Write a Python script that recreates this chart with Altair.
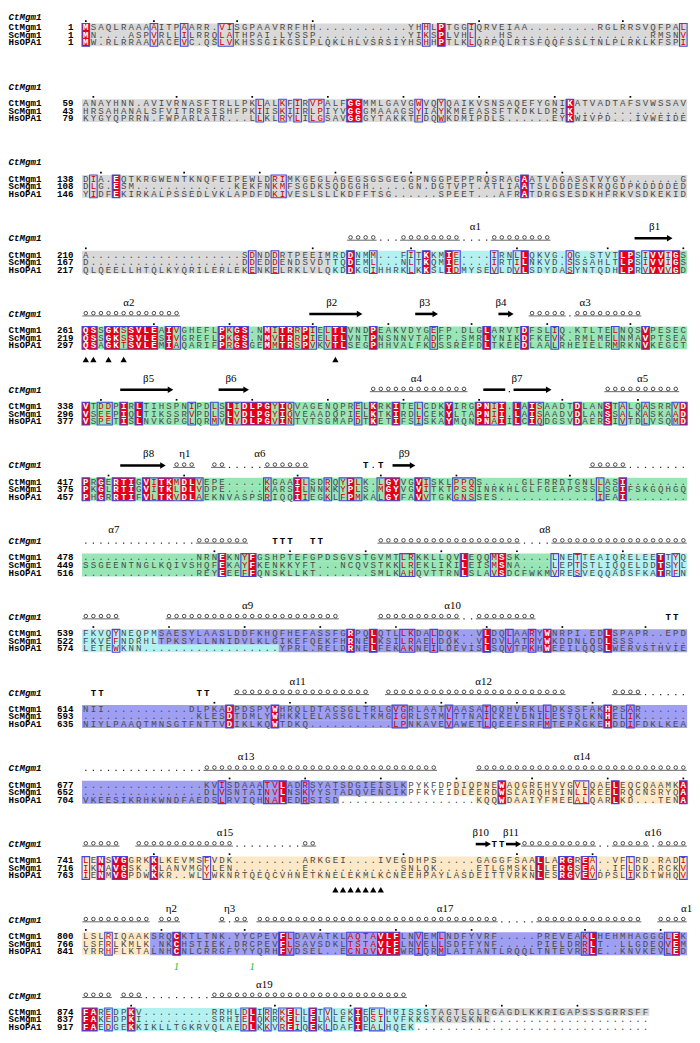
import altair as alt
import pandas as pd

# ---------------- data ----------------
names = ["CtMgm1", "ScMgm1", "HsOPA1"]
ct_start = [1, 59, 138, 210, 261, 338, 417, 478, 539, 614, 677, 741, 800, 874]
sc_start = [1, 43, 108, 167, 219, 296, 375, 449, 522, 593, 652, 716, 766, 837]
hs_start = [1, 79, 146, 217, 297, 377, 457, 516, 574, 635, 704, 763, 841, 917]

ct_seq = [
    "MSAQLRAAAAITPAARR.VISGPAAVRRFHH" + "." * 12 + "YHHLPTGGIQRVEIAA" + "." * 9 + "RGLRRSVQFPAL",
    "ANAYHNN.AVIVRNASFTRLLPKLALKFIRVPALFGGMMLGAVGWVQYQAIKVSNSAQEFYGNIKATVADTAFSVWSSAV",
    "DIA.EQTKRGWENTKNQFEIPEWLDRIMKGEGLAGEGSGSGEGGPNGGPEPPRQSRAGAATVAGASATVYGY" + "." * 7 + "G",
    "A" + "." * 20 + "SDNDDRTPEEIMRDDNMM...FITKKMIE....IRNLLQKVG.QG.STVTLPSIVVIGS",
    "QSSGKSSVLEAIVGHEFLPKGS.NMITRRPIELTLVNDPEAKVDYGEFP.DLGLARVTDFSLIQ.KTLTELNQSVPESEC",
    "VTDDPIRLTIHSPNIPDLSLIDLPGYIQVAGENQPRELKRKITELCDKYIRGPNII.LAISAADTDLANSTALQASRRVD",
    "PRGERTIGVITKMDLVEPE.....KGAAILSDRQYPLK.LGYVGVISKLPPQS.....GLFRRDTGNLLASI........",
    "." * 15 + "NRNEKNYFGSHPTEFGPDSGVSTGVMTLRKKLLQVLEQQMSSK....LNETTEAIQRELEETTYQ",
    "FKVQYNEQPMSAESYLAASLDDFKHQFHEFASSFGRPQLQTLLKDALDQK..VLDQLAARYWNRPI.EDLSPAPR..EPD",
    "NII" + "." * 11 + "DLPKADPDSPYWHRQLDTACSGLTRLGVGRLAATVAASAIQQHVEKLLDKSSFAKHPSAR......",
    "." * 16 + "KVISDAAATVLADRSYATSDGIEISLKPYKFDPDIQPNEWAQGREHVVGVLQAELEQCQAAMKA",
    "LENSVGGRKKLKEVMSFVDK" + "." * 9 + "ARKGEI....IVEGDHPS.....GAGGFSAALLARGREA..VFLRD.RADI",
    "LSLRIQAAKSRQCKTLTNK.YYCPEVFLDAVATKLAQTAVLFLNVEMLNDFYVRF.....PREVEAKLHEHMHAGGGLEK",
    "FAREDPKV" + "." * 9 + "RRHLDLIRRKELLETVLGKIEELHRISSGTAGTLGLRGAGDLKKRIGAPSSSGRRSFF",
]
sc_seq = [
    "MN....ASPVRLLILRRQLATHPAI.LYSSP" + "." * 12 + "YIKSPLVHL...HS" + "." * 18 + "RMSNV",
    "HRSAHANALSFVITRRSISHFPKIISKIIRLPIYVGGGMAAAGSYIAYKMEEASSFTKDKLDRIK" + "." * 15,
    "DLG.ESM" + "." * 13 + "KEKFNKMFSGDKSQDGGH" + "." * 5 + "GN.DGTVPT.ATLIAATSLDDDESKRQGDPKDDDDED",
    "D" + "." * 20 + "DDEDDENDSVDTTQDEML...NLTKQMIE....IRTILNKVD.SSSAHLTLPSIVVIGS",
    "QSSGKSSVLESIVGREFLPKGS.NMVTRRPIELTLVNTPNSNNVTADFP.SMRLYNIKDFKEVK.RMLMELNMAVPTSEA",
    "VSEEPIQLTIKSSRVPDLSLVDLPGYIQVEAADQPIELKTKIRDLCEKYLTAPNII.LAISAADVDLANSSALKASKAAD",
    "PKGLRTIGVITKLDLVDPE.....KARSILNNKKYPLS.MGYVGVITKTPSSINRKHLGLFGEAPSSSLSGIFSKGQHGQ",
    "SSGEENTNGLKQIVSHQFEKAYFKENKKYFT...NCQVSTKKLREKLIKILEISMSNA....LEPTSTLIQQELDDTSYL",
    "FKVEFNDRHLTPKSYLLNNIDVLKLGIKEFQEKFHRNELKSILRAELDQK..VLDVLATRYWKDDNLQDLSSS.......",
    "." * 15 + "KLESDTDMLYWHKKLELASSGLTKMGIGRLSTMLTTNAILKELDNILESTQLKNHELIK......",
    "." * 16 + "DLVSNTAINVLNSKYYSTADQVENCIKPFKYEIDLEERDWSLARQHSINLIKEELRQCNSRYQA",
    "IKNAVGSK.KLANVMGYLEN" + "." * 9 + "E" + "." * 12 + "SNLQK.....ETLGMSKLLLERGSEA..IFLDK.RCKV",
    "LSFRLKMLK.NKCHSTIEK.DRCPEVFLSAVSDKLTSTAVLFLNVELLSDFFYNF.....PIELDRRLT..LLGDEQVEM",
    "FAKEDPKI" + "." * 9 + "SRHIELQKRKELLELALEKIDSILVFKKSYKGVSKNL" + "." * 21,
]
hs_seq = [
    "MW.RLRRAAVACEVC.QSLVKHSSGIKGSLPLQKLHLVSRSIYHSHHPTLKLQRPQLRTSFQQFSSLTNLPLRKLKFSPI",
    "KYGYQPRRN.FWPARLATR...LLKLRYLILGSAVGGGYTAKKTFDQWKDMIPDLS......EYKWIVPD...IVWEIDE",
    "YIDFEKIRKALPSSEDLVKLAPDFDKIVESLSLLKDFFTSG" + "." * 6 + "SPEET...AFRATDRGSESDKHFRKVSDKEKID",
    "QLQEELLHTQLKYQRILERLEKENKELRKLVLQKDDKGIHHRKLKKSLIDMYSEVLDVLSDYDASYNTQDHLPRVVVVGD",
    "QSAGKTSVLEMIAQARIFPRGSGEMMTRSPVKVTLSEGPHHVALFKDSSREFDLTKEEDLAALRHEIELRMRKNVKEGCT",
    "VSPETISLNVKGPGLQRMVLVDLPGVINTVTSGMAPDTKETIFSISKAYMQNPNAIILCIQDGSVDAERSIVTDLVSQMD",
    "PHGRRTIFVLTKVDLAEKNVASPSRIQQIIEGKLFPMKALGYFAVVTGKGNSSES" + "." * 13 + "IEAI" + "." * 8,
    "." * 15 + "REYEEEFFQNSKLLKT" + "." * 7 + "SMLKAHQVTTRNLSLAVSDCFWKMVRESVEQQADSFKATRFN",
    "LETEWKNN" + "." * 18 + "YPRL.RELDRNELFEKAKNEILDEVISLSQVTPKHWEEILQQSLWERVSTHVIE",
    "NIYLPAAQTMNSGTFNTTVDIKLKQWTDKQ" + "." * 11 + "LPNKAVEVAWETLQEEFSRFMTEPKGKEHDDIFDKLKEA",
    "VKEESIKRHKWNDFAEDSLRVIQHNALEDRSISD" + "." * 18 + "KQQWDAAIYFMEEALQARLKD...TENA",
    "IENMVGPDWKKR..WLYWKNRTQEQCVHNETKNELEKMLKCNEEHPAYLASDEITTVRKNLESRGVEVDPSLIKDTWHQV",
    "YRRHFLKTALNHCNLCRRGFYYYQRHFVDSEL..ECNDVVLFWRIQRMLAITANTLRQQLTNTEVRRLE..KNVKEVLED",
    "FAEDGEKKIKLLTGKRVQLAEDLKKVREIQEKLDAFIEALHQEK" + "." * 31,
]

# similar (framed, red letters) columns per block; strict identity is taken from the sequences
similar = [
    [9, 13, 18, 19, 45, 51, 79],
    [23, 26, 28, 30, 31, 44, 47],
    [1, 25, 26],
    [22, 25, 38, 43, 49, 54, 57, 64, 74, 77],
    [5, 12, 19, 25, 28, 30, 32, 46, 62, 70],
    [2, 3, 14, 17, 20, 25, 27, 36, 44, 54, 60, 71, 74, 78],
    [9, 12, 15, 24, 29, 32, 34, 36, 39, 45, 49, 50, 51, 68],
    [21, 42, 43, 54, 62, 65, 78],
    [4, 42, 43, 46, 56, 59],
    [41, 42, 48, 53, 61, 72],
    [18, 24, 25, 29, 65, 66],
    [0, 16, 67, 72, 79],
    [3, 27, 35, 36, 37, 38, 44, 47, 66, 77],
    [3, 21, 24, 26, 28, 32, 38, 39],
]

# domain shading: (block, rows, first column, last column, colour)
regions = [
    (0, "012", 0, 79, "gray"), (1, "012", 0, 79, "gray"), (2, "012", 0, 79, "gray"),
    (3, "012", 0, 32, "gray"), (3, "012", 33, 78, "cyan"), (3, "012", 79, 79, "green"),
    (4, "012", 0, 79, "green"), (5, "012", 0, 79, "green"), (6, "012", 0, 79, "green"),
    (7, "012", 0, 61, "green"), (7, "012", 62, 79, "cyan"),
    (8, "01", 0, 9, "cyan"), (8, "01", 10, 79, "purple"), (8, "2", 0, 25, "cyan"), (8, "2", 26, 79, "purple"),
    (9, "012", 0, 79, "purple"),
    (10, "01", 0, 42, "purple"), (10, "01", 49, 79, "wheat"), (10, "2", 0, 33, "purple"), (10, "2", 52, 79, "wheat"),
    (11, "012", 0, 79, "wheat"),
    (12, "012", 0, 8, "wheat"), (12, "012", 9, 79, "purple"),
    (13, "01", 0, 45, "cyan"), (13, "0", 46, 74, "gray"), (13, "1", 46, 53, "gray"), (13, "2", 0, 43, "cyan"),
]

# secondary structure of CtMgm1
helices = [
    (3, 35, 38), (3, 42, 49), (3, 54, 61),
    (4, 0, 12), (4, 59, 63), (4, 65, 73),
    (5, 38, 50), (5, 69, 78),
    (6, 12, 14), (6, 17, 18), (6, 24, 29), (6, 67, 71),
    (7, 15, 21), (7, 39, 57), (7, 62, 79),
    (8, 0, 4), (8, 11, 33), (8, 39, 49), (8, 52, 59),
    (9, 20, 37), (9, 40, 63), (9, 70, 73),
    (10, 16, 46), (10, 52, 79),
    (11, 0, 4), (11, 7, 19), (11, 29, 30), (11, 58, 67), (11, 70, 74), (11, 76, 79),
    (12, 0, 8), (12, 10, 12), (12, 18, 18), (12, 20, 21), (12, 23, 54), (12, 60, 73), (12, 76, 79),
    (13, 0, 3), (13, 5, 7), (13, 17, 42),
]
ss_gaps = [
    (3, 39, 41), (3, 50, 53), (4, 64, 64), (5, 56, 56), (6, 19, 23), (6, 38, 38), (6, 72, 79),
    (7, 0, 14), (7, 58, 61), (8, 50, 51), (9, 74, 79), (10, 0, 15), (11, 20, 28), (11, 68, 69),
    (11, 75, 75), (12, 19, 19), (12, 55, 59), (13, 8, 16),
]
strands = [  # (block, first, last, arrow head)
    (3, 73, 77, 1), (4, 30, 36, 1), (4, 44, 46, 1), (4, 55, 56, 1),
    (5, 5, 11, 1), (5, 18, 21, 1), (5, 53, 55, 0), (5, 57, 61, 1),
    (6, 5, 10, 1), (6, 41, 43, 1), (11, 52, 53, 1), (11, 56, 57, 1),
]
turns = [(6, 37), (6, 39), (7, 25), (7, 26), (7, 27), (7, 30), (7, 31), (8, 77), (8, 78),
         (9, 1), (9, 2), (9, 15), (9, 16), (11, 54), (11, 55)]
ss_names = [
    (3, "α1", 51.5), (3, "β1", 75.2),
    (4, "α2", 5.7), (4, "β2", 32.5), (4, "β3", 44.8), (4, "β4", 54.9), (4, "α3", 66.0),
    (5, "β5", 8.3), (5, "β6", 19.2), (5, "α4", 43.7), (5, "β7", 57.0), (5, "α5", 73.6),
    (6, "β8", 8.3), (6, "η1", 13.1), (6, "α6", 23.0), (6, "β9", 42.1),
    (7, "α7", 3.7), (7, "α8", 60.7),
    (8, "α9", 21.4), (8, "α10", 48.5),
    (9, "α11", 28.0), (9, "α12", 52.6),
    (10, "α13", 21.2), (10, "α14", 65.6),
    (11, "α15", 18.4), (11, "β10", 52.2), (11, "β11", 56.2), (11, "α16", 75.0),
    (12, "η2", 11.3), (12, "η3", 19.0), (12, "α17", 47.5), (12, "α18", 79.8),
    (13, "α19", 23.6),
]
marked = [(4, 0), (4, 1), (4, 3), (4, 5), (4, 33),
          (11, 33), (11, 34), (11, 35), (11, 36), (11, 37), (11, 38), (11, 39)]
disulfide = [(12, 12, "1"), (12, 22, "1")]

for k in range(len(ct_seq)):
    n = len(ct_seq[k])
    assert len(sc_seq[k]) == n and len(hs_seq[k]) == n, (k, n, len(sc_seq[k]), len(hs_seq[k]))

# ---------------- layout ----------------
X0, CW = 86.5, 7.63          # page x of first column, column pitch
Y0, PITCH, RS = 23.0, 76.4, 7.6
W, H = 690, 1033
OFF_RULER, OFF_SS, OFF_LAB, OFF_TRI, OFF_CYS = -6.3, -16.5, -27.5, 29.5, 31.5
BG = {"gray": "#d9d9d9", "cyan": "#b3f0f0", "green": "#98e5b5", "purple": "#9e9ef2", "wheat": "#fde9c8"}
RED = "#e3001b"
FRAME = "#4646d8"
NAME_X = (8.6 - X0) / CW
NUM_X = (74 - X0) / CW
FS = 9.2
TOP_MIN = 13.0


def ypos(k, r=0, off=0.0):
    return Y0 + k * PITCH + r * RS + off


xs = alt.Scale(domain=[(8 - X0) / CW, (8 + W - X0) / CW], nice=False, zero=False)
ys = alt.Scale(domain=[8, 8 + H], reverse=True, nice=False, zero=False)


def X(f):
    return alt.X(f + ":Q", scale=xs, axis=None)


def Y(f):
    return alt.Y(f + ":Q", scale=ys, axis=None)


# residues and conservation classes
res_rows, red_rows, frame_rows = [], [], []
for k in range(len(ct_seq)):
    seqs = [ct_seq[k], sc_seq[k], hs_seq[k]]
    n = len(seqs[0])
    cls = []
    for c in range(n):
        ch = [s[c] for s in seqs]
        if ch[0] != "." and ch[0] == ch[1] == ch[2]:
            cls.append("R")
        elif c in similar[k]:
            cls.append("B")
        else:
            cls.append("N")
    for c in range(n):
        for r in range(3):
            ch = seqs[r][c]
            if cls[c] == "R":
                color = "white"
            elif cls[c] == "B" and ch != ".":
                color = "#d40000"
            else:
                color = "#4a4a4a"
            res_rows.append(dict(col=c, y=ypos(k, r), ch=ch, cls=cls[c], color=color))
    c = 0
    while c < n:
        if cls[c] != "N":
            d = c
            while d + 1 < n and cls[d + 1] != "N":
                d += 1
            frame_rows.append(dict(x1=c - 0.5, x2=d + 0.5, y1=ypos(k, 0, -3.9), y2=ypos(k, 2, 3.9)))
            e = c
            while e <= d:
                if cls[e] == "R":
                    f = e
                    while f + 1 <= d and cls[f + 1] == "R":
                        f += 1
                    red_rows.append(dict(x1=e - 0.5, x2=f + 0.5, y1=ypos(k, 0, -3.9), y2=ypos(k, 2, 3.9)))
                    e = f + 1
                else:
                    e += 1
            c = d + 1
        else:
            c += 1
res = pd.DataFrame(res_rows)
red_df = pd.DataFrame(red_rows)
frame_df = pd.DataFrame(frame_rows)

bg_df = pd.DataFrame([
    dict(x1=s - 0.5, x2=e + 0.5, y1=ypos(k, int(r), -RS / 2 - 0.15), y2=ypos(k, int(r), RS / 2 + 0.15), fill=BG[col])
    for (k, rows, s, e, col) in regions for r in rows
])

label_rows, num_rows, block_rows, ruler_rows = [], [], [], []
for k in range(len(ct_seq)):
    starts = [ct_start[k], sc_start[k], hs_start[k]]
    for r in range(3):
        label_rows.append(dict(x=NAME_X, y=ypos(k, r), t=names[r]))
        num_rows.append(dict(x=NUM_X, y=ypos(k, r), t=str(starts[r])))
    block_rows.append(dict(x=NAME_X, y=max(ypos(k, 0, OFF_SS), TOP_MIN), t=names[0]))
    num = ct_start[k]
    for c, ch in enumerate(ct_seq[k]):
        if ch != ".":
            if num % 10 == 0 or num == 1:
                ruler_rows.append(dict(col=c, y=ypos(k, 0, OFF_RULER)))
            num += 1
lab_df = pd.DataFrame(label_rows)
num_df = pd.DataFrame(num_rows)
blk_df = pd.DataFrame(block_rows)
ruler_df = pd.DataFrame(ruler_rows)

coil_df = pd.DataFrame([dict(col=c, y=ypos(k, 0, OFF_SS - 0.8)) for (k, s, e) in helices for c in range(s, e + 1)])
coilbase_df = pd.DataFrame([dict(x1=s - 0.45, x2=e + 0.45, y=ypos(k, 0, OFF_SS + 2.0)) for (k, s, e) in helices])
gap_df = pd.DataFrame([dict(col=c, y=ypos(k, 0, OFF_SS + 2.0)) for (k, s, e) in ss_gaps for c in range(s, e + 1)])
shaft_df = pd.DataFrame([dict(x1=s - 0.45, x2=e + (0.0 if h else 0.45), y=ypos(k, 0, OFF_SS)) for (k, s, e, h) in strands])
head_df = pd.DataFrame([dict(col=e + 0.2, y=ypos(k, 0, OFF_SS)) for (k, s, e, h) in strands if h])
turn_df = pd.DataFrame([dict(col=c, y=ypos(k, 0, OFF_SS), t="T") for (k, c) in turns])
ssname_df = pd.DataFrame([dict(col=c, y=ypos(k, 0, OFF_LAB), t=t) for (k, t, c) in ss_names])
tri_df = pd.DataFrame([dict(col=c, y=ypos(k, 0, OFF_TRI)) for (k, c) in marked])
cys_df = pd.DataFrame([dict(col=c, y=ypos(k, 0, OFF_CYS), t=t) for (k, c, t) in disulfide])

# ---------------- layers ----------------
MONO = "Liberation Mono"
layers = [
    alt.Chart(bg_df).mark_rect(strokeWidth=0).encode(
        x=X("x1"), x2=alt.X2("x2"), y=Y("y1"), y2=alt.Y2("y2"), color=alt.Color("fill:N", scale=None)),
    alt.Chart(red_df).mark_rect(color=RED, strokeWidth=0).encode(
        x=X("x1"), x2=alt.X2("x2"), y=Y("y1"), y2=alt.Y2("y2")),
    alt.Chart(frame_df).mark_rect(fillOpacity=0, stroke=FRAME, strokeWidth=1.1).encode(
        x=X("x1"), x2=alt.X2("x2"), y=Y("y1"), y2=alt.Y2("y2")),
    alt.Chart(res[res.cls != "R"]).mark_text(font=MONO, fontSize=FS, align="center", baseline="middle").encode(
        x=X("col"), y=Y("y"), text="ch:N", color=alt.Color("color:N", scale=None)),
    alt.Chart(res[res.cls == "R"]).mark_text(font=MONO, fontSize=FS, fontWeight="bold", align="center",
                                             baseline="middle", color="white").encode(
        x=X("col"), y=Y("y"), text="ch:N"),
    alt.Chart(lab_df).mark_text(font=MONO, fontSize=FS, fontWeight="bold", align="left", baseline="middle",
                                color="black").encode(x=X("x"), y=Y("y"), text="t:N"),
    alt.Chart(num_df).mark_text(font=MONO, fontSize=FS, fontWeight="bold", align="right", baseline="middle",
                                color="black").encode(x=X("x"), y=Y("y"), text="t:N"),
    alt.Chart(blk_df).mark_text(font=MONO, fontSize=FS, fontWeight="bold", fontStyle="italic", align="left",
                                baseline="middle", color="black").encode(x=X("x"), y=Y("y"), text="t:N"),
    alt.Chart(ruler_df).mark_point(shape="square", filled=True, size=3, color="black", opacity=1).encode(
        x=X("col"), y=Y("y")),
    alt.Chart(coil_df).mark_point(shape="circle", filled=False, size=13, strokeWidth=0.8, color="#222222",
                                  opacity=1).encode(x=X("col"), y=Y("y")),
    alt.Chart(coilbase_df).mark_rule(strokeWidth=0.7, color="#222222").encode(
        x=X("x1"), x2=alt.X2("x2"), y=Y("y")),
    alt.Chart(gap_df).mark_point(shape="square", filled=True, size=1.5, color="#222222", opacity=1).encode(
        x=X("col"), y=Y("y")),
    alt.Chart(shaft_df).mark_rule(strokeWidth=2.6, color="black").encode(
        x=X("x1"), x2=alt.X2("x2"), y=Y("y")),
    alt.Chart(head_df).mark_point(shape="triangle-right", filled=True, size=42, color="black", opacity=1).encode(
        x=X("col"), y=Y("y")),
    alt.Chart(turn_df).mark_text(font=MONO, fontSize=FS, fontWeight="bold", align="center", baseline="middle",
                                 color="black").encode(x=X("col"), y=Y("y"), text="t:N"),
    alt.Chart(ssname_df).mark_text(font="Liberation Serif", fontSize=11, align="center", baseline="middle",
                                   color="black").encode(x=X("col"), y=Y("y"), text="t:N"),
    alt.Chart(tri_df).mark_point(shape="triangle-up", filled=True, size=40, color="black", opacity=1).encode(
        x=X("col"), y=Y("y")),
    alt.Chart(cys_df).mark_text(font="Liberation Serif", fontSize=10, fontStyle="italic", align="center",
                                baseline="middle", color="#22b022").encode(x=X("col"), y=Y("y"), text="t:N"),
]

chart = alt.layer(*layers).properties(
    width=W, height=H, padding=0, autosize=alt.AutoSizeParams(type="none")
).configure_view(stroke=None)

chart.save("out.html", embed_options={"renderer": "svg", "actions": False})
